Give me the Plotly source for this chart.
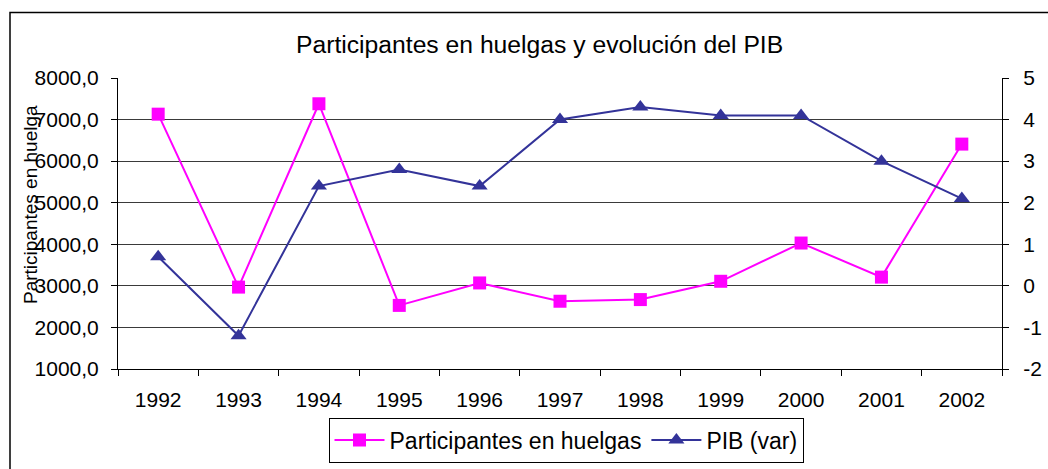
import plotly.graph_objects as go

years = ["1992", "1993", "1994", "1995", "1996", "1997", "1998", "1999", "2000", "2001", "2002"]
participantes = [7130, 2970, 7380, 2530, 3070, 2630, 2670, 3110, 4030, 3210, 6410]
pib = [0.7, -1.2, 2.4, 2.8, 2.4, 4.0, 4.3, 4.1, 4.1, 3.0, 2.1]

left_ticks = [1000, 2000, 3000, 4000, 5000, 6000, 7000, 8000]
right_ticks = [-2, -1, 0, 1, 2, 3, 4, 5]
right_labels = ["-2", "-1", "0", "1", "2", "3", "4", "5"]

title_text = "Participantes en huelgas y evolución del PIB"
ylabel_text = "Participantes en huelga"

FONT = "Liberation Sans, Arial, sans-serif"
PINK = "#FF00FF"
NAVY = "#333399"

fig = go.Figure()
fig.add_trace(go.Scatter(
    x=years, y=participantes, name="Participantes en huelgas",
    mode="lines+markers",
    line=dict(color=PINK, width=2),
    marker=dict(symbol="square", size=13, color=PINK),
    yaxis="y",
))
fig.add_trace(go.Scatter(
    x=years, y=pib, name="PIB (var)",
    mode="lines+markers",
    line=dict(color=NAVY, width=2),
    marker=dict(symbol="triangle-up", size=14, color=NAVY),
    yaxis="y2",
))

L, R, T, B = 118, 46, 78, 100
W, H = 1048, 469
pw, ph = W - L - R, H - T - B

def px(x):
    return (x - L) / pw

def py(y):
    return (H - B - y) / ph

fig.update_layout(
    width=W, height=H,
    margin=dict(l=L, r=R, t=T, b=B, pad=0, autoexpand=False),
    paper_bgcolor="white", plot_bgcolor="white",
    separators=",.",
    font=dict(family=FONT, size=21, color="black"),
    showlegend=True,
    legend=dict(
        orientation="h", x=px(566), y=py(440), xanchor="center", yanchor="middle",
        bordercolor="black", borderwidth=1, font=dict(size=23),
        bgcolor="white", itemwidth=50,
    ),
    xaxis=dict(
        type="category", range=[-0.5, len(years) - 0.5],
        showgrid=False, showline=True, linecolor="black", linewidth=1,
        ticks="outside", ticklen=6, tickcolor="black", tickson="boundaries",
        tickfont=dict(size=21), mirror=False, zeroline=False, ticklabelstandoff=12,
    ),
    yaxis=dict(
        range=[1000, 8000], tickvals=left_ticks, tickformat=".1f",
        showgrid=True, gridcolor="#3a3a3a", gridwidth=1,
        showline=True, linecolor="black", linewidth=1,
        ticks="outside", ticklen=6, tickcolor="black", zeroline=False,
        tickfont=dict(size=21), ticklabelstandoff=8,
    ),
    yaxis2=dict(
        range=[-2, 5], tickvals=right_ticks, ticktext=right_labels,
        overlaying="y", side="right", showgrid=False,
        showline=True, linecolor="black", linewidth=1,
        ticks="outside", ticklen=6, tickcolor="black", zeroline=False,
        tickfont=dict(size=21), ticklabelstandoff=10,
    ),
)

fig.add_annotation(
    text=title_text, xref="paper", yref="paper", x=px(539), y=py(45),
    xanchor="center", yanchor="middle", showarrow=False, font=dict(size=24.7),
)
fig.add_annotation(
    text=ylabel_text, xref="paper", yref="paper", x=px(30), y=py(205),
    xanchor="center", yanchor="middle", textangle=-90, showarrow=False,
    font=dict(size=19),
)
fig.add_shape(
    type="rect", xref="paper", yref="paper",
    x0=px(10), x1=px(1060), y0=py(480), y1=py(12.5),
    line=dict(color="black", width=1.5), layer="below",
)

fig.write_html(
    "out.html",
    config={"displayModeBar": False},
    post_script="document.body.style.margin='0';document.body.style.overflow='hidden';",
)
